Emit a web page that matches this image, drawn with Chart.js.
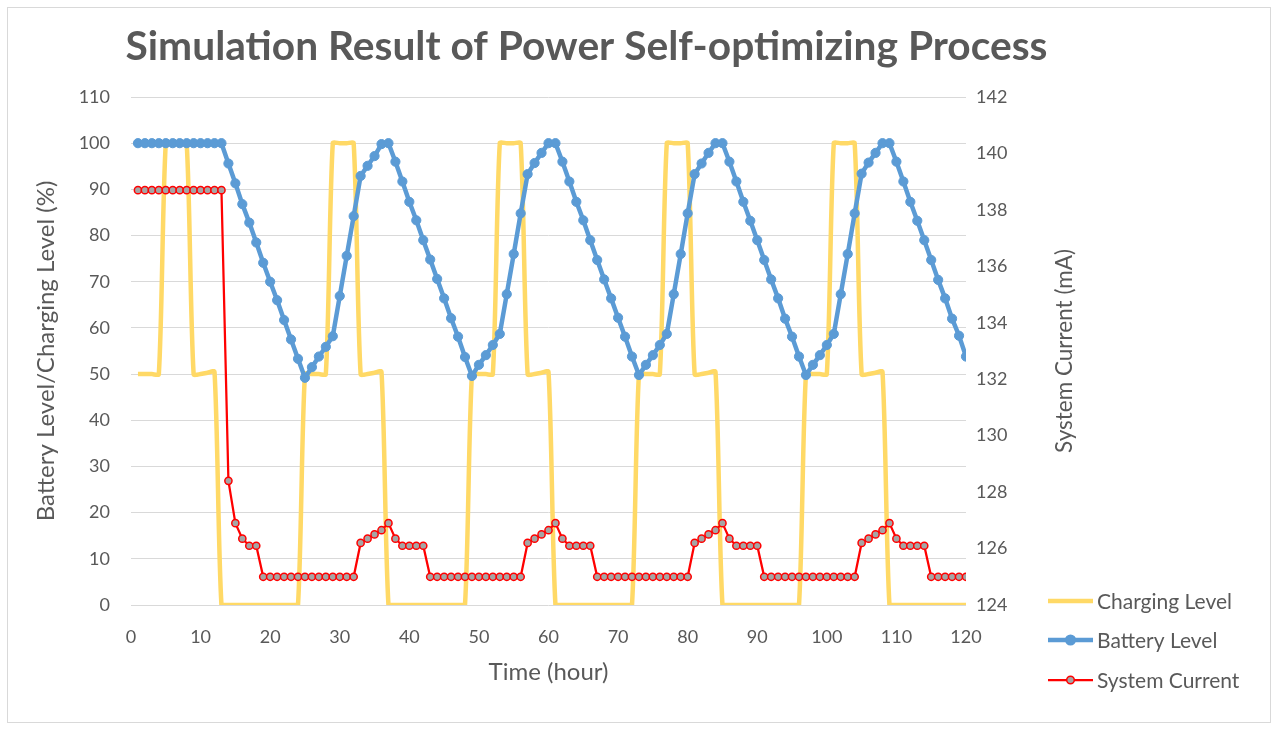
<!DOCTYPE html>
<html>
<head>
<meta charset="utf-8">
<title>Simulation Result of Power Self-optimizing Process</title>
<script src="https://cdn.jsdelivr.net/npm/chart.js@4.4.1/dist/chart.umd.min.js"></script>
<style>
  html, body { margin: 0; padding: 0; background: #fff; }
  canvas { display: block; }
</style>
</head>
<body>
<canvas id="powerChart" width="1279" height="731"></canvas>
<script>
// --- data ---
const hours = [
  1, 2, 3, 4, 5, 6, 7, 8, 9, 10, 11, 12, 13, 14, 15, 16, 17, 18, 19, 20,
  21, 22, 23, 24, 25, 26, 27, 28, 29, 30, 31, 32, 33, 34, 35, 36, 37, 38, 39, 40,
  41, 42, 43, 44, 45, 46, 47, 48, 49, 50, 51, 52, 53, 54, 55, 56, 57, 58, 59, 60,
  61, 62, 63, 64, 65, 66, 67, 68, 69, 70, 71, 72, 73, 74, 75, 76, 77, 78, 79, 80,
  81, 82, 83, 84, 85, 86, 87, 88, 89, 90, 91, 92, 93, 94, 95, 96, 97, 98, 99, 100,
  101, 102, 103, 104, 105, 106, 107, 108, 109, 110, 111, 112, 113, 114, 115, 116, 117, 118, 119, 120
];

// Charging Level (%)
const chargingLevel = [
  50, 50, 50, 50, 100, 100, 100, 100, 50, 50, 50.3, 50.5, 0, 0, 0, 0, 0, 0, 0, 0, 0, 0, 0, 0,
  50, 50, 50, 50, 100, 100, 100, 100, 50, 50, 50.3, 50.5, 0, 0, 0, 0, 0, 0, 0, 0, 0, 0, 0, 0,
  50, 50, 50, 50, 100, 100, 100, 100, 50, 50, 50.3, 50.5, 0, 0, 0, 0, 0, 0, 0, 0, 0, 0, 0, 0,
  50, 50, 50, 50, 100, 100, 100, 100, 50, 50, 50.3, 50.5, 0, 0, 0, 0, 0, 0, 0, 0, 0, 0, 0, 0,
  50, 50, 50, 50, 100, 100, 100, 100, 50, 50, 50.3, 50.5, 0, 0, 0, 0, 0, 0, 0, 0, 0, 0, 0, 0
];

// Battery Level (%)
const batteryLevel = [
  100, 100, 100, 100, 100, 100, 100, 100, 100, 100, 100, 100, 100,
  95.6, 91.3, 86.8, 82.8, 78.5, 74.1, 70.0, 66.0, 61.7, 57.5, 53.3, 49.2,
  51.5, 53.8, 55.9, 58.2, 66.9, 75.6, 84.2, 92.9, 95.1, 97.2, 99.8, 100,
  96.0, 91.7, 87.3, 83.3, 79.0, 74.8, 70.6, 66.4, 62.1, 58.1, 53.7, 49.6,
  52.0, 54.1, 56.3, 58.7, 67.3, 76.0, 84.8, 93.3, 95.7, 97.9, 100, 100,
  96.0, 91.7, 87.3, 83.3, 79.0, 74.7, 70.5, 66.4, 62.2, 58.1, 53.8, 49.8,
  52.0, 54.1, 56.3, 58.7, 67.3, 76.0, 84.8, 93.3, 95.6, 97.9, 100, 100,
  96.0, 91.7, 87.3, 83.2, 79.0, 74.7, 70.5, 66.4, 62.0, 58.1, 53.8, 49.8,
  52.0, 54.1, 56.3, 58.7, 67.3, 76.0, 84.8, 93.4, 95.8, 97.9, 100, 100,
  96.0, 91.7, 87.3, 83.2, 79.0, 74.7, 70.4, 66.4, 62.0, 58.3, 53.8
];

// System Current (mA)
const systemCurrent = [
  138.7, 138.7, 138.7, 138.7, 138.7, 138.7, 138.7, 138.7, 138.7, 138.7, 138.7, 138.7, 138.7,
  128.4, 126.9, 126.35, 126.1, 126.1,
  125, 125, 125, 125, 125, 125, 125, 125, 125, 125, 125, 125, 125, 125,
  126.2, 126.35, 126.5, 126.65, 126.9, 126.35, 126.1, 126.1, 126.1, 126.1,
  125, 125, 125, 125, 125, 125, 125, 125, 125, 125, 125, 125, 125, 125,
  126.2, 126.35, 126.5, 126.65, 126.9, 126.35, 126.1, 126.1, 126.1, 126.1,
  125, 125, 125, 125, 125, 125, 125, 125, 125, 125, 125, 125, 125, 125,
  126.2, 126.35, 126.5, 126.65, 126.9, 126.35, 126.1, 126.1, 126.1, 126.1,
  125, 125, 125, 125, 125, 125, 125, 125, 125, 125, 125, 125, 125, 125,
  126.2, 126.35, 126.5, 126.65, 126.9, 126.35, 126.1, 126.1, 126.1, 126.1,
  125, 125, 125, 125, 125, 125
];

const xTicks = [0, 10, 20, 30, 40, 50, 60, 70, 80, 90, 100, 110, 120];
const leftTicks = [0, 10, 20, 30, 40, 50, 60, 70, 80, 90, 100, 110];
const rightTicks = [124, 126, 128, 130, 132, 134, 136, 138, 140, 142];

const TEXT = '#595959';
const GRID = '#D9D9D9';
const YELLOW = '#FFD966';
const BLUE = '#5B9BD5';
const RED = '#FF0000';
const GRAY = '#A5A5A5';
const FONT = 'Lato, "Open Sans", sans-serif';

Chart.defaults.font.family = FONT;
Chart.defaults.color = TEXT;

const toPoints = vals => hours.map((h, i) => ({ x: h, y: vals[i] }));

// title, right axis title, legend and frame drawn by hand (Excel layout)
const decor = {
  id: 'decor',
  beforeDraw(chart) {
    const ctx = chart.ctx;
    ctx.save();
    ctx.strokeStyle = GRID;
    ctx.lineWidth = 1;
    ctx.strokeRect(7.5, 7.5, 1263, 715);
    ctx.restore();
  },
  afterDraw(chart) {
    const ctx = chart.ctx;
    ctx.save();
    ctx.fillStyle = TEXT;

    // chart title, fitted to the reference width
    const title = 'Simulation Result of Power Self-optimizing Process';
    ctx.font = 'bold 40px ' + FONT;
    const size = 40 * 923 / ctx.measureText(title).width;
    ctx.font = 'bold ' + size.toFixed(1) + 'px ' + FONT;
    ctx.textAlign = 'center';
    ctx.textBaseline = 'alphabetic';
    ctx.fillText(title, 586.5, 60);

    // secondary axis title
    ctx.font = '22.5px ' + FONT;
    ctx.translate(1065, 351);
    ctx.rotate(-Math.PI / 2);
    ctx.textBaseline = 'middle';
    ctx.fillText('System Current (mA)', 0, 0);
    ctx.setTransform(chart.currentDevicePixelRatio, 0, 0, chart.currentDevicePixelRatio, 0, 0);

    // legend
    const rows = [
      { label: 'Charging Level', y: 601, color: YELLOW, width: 4.5, marker: null },
      { label: 'Battery Level', y: 640, color: BLUE, width: 4.5, marker: { r: 4.8, fill: BLUE, stroke: BLUE } },
      { label: 'System Current', y: 680, color: RED, width: 2.25, marker: { r: 3.8, fill: GRAY, stroke: RED } }
    ];
    ctx.font = '21px ' + FONT;
    ctx.textAlign = 'left';
    ctx.textBaseline = 'middle';
    rows.forEach(r => {
      ctx.strokeStyle = r.color;
      ctx.lineWidth = r.width;
      ctx.beginPath();
      ctx.moveTo(1048, r.y);
      ctx.lineTo(1093, r.y);
      ctx.stroke();
      if (r.marker) {
        ctx.beginPath();
        ctx.arc(1070.5, r.y, r.marker.r, 0, Math.PI * 2);
        ctx.fillStyle = r.marker.fill;
        ctx.fill();
        ctx.lineWidth = 1.5;
        ctx.strokeStyle = r.marker.stroke;
        ctx.stroke();
      }
      ctx.fillStyle = TEXT;
      ctx.fillText(r.label, 1097, r.y + 1);
    });
    ctx.restore();
  }
};

new Chart(document.getElementById('powerChart'), {
  type: 'line',
  data: {
    datasets: [
      {
        label: 'Charging Level',
        data: toPoints(chargingLevel),
        yAxisID: 'y',
        borderColor: YELLOW,
        borderWidth: 4.5,
        pointRadius: 0,
        tension: 0.25,
        order: 3
      },
      {
        label: 'Battery Level',
        data: toPoints(batteryLevel),
        yAxisID: 'y',
        borderColor: BLUE,
        backgroundColor: BLUE,
        borderWidth: 4.5,
        pointRadius: 4.6,
        pointBorderWidth: 1,
        pointBackgroundColor: BLUE,
        pointBorderColor: BLUE,
        tension: 0,
        order: 2
      },
      {
        label: 'System Current',
        data: toPoints(systemCurrent),
        yAxisID: 'y1',
        borderColor: RED,
        backgroundColor: GRAY,
        borderWidth: 2.25,
        pointRadius: 3.6,
        pointBorderWidth: 1.5,
        pointBackgroundColor: GRAY,
        pointBorderColor: RED,
        tension: 0,
        order: 1
      }
    ]
  },
  options: {
    responsive: false,
    animation: false,
    layout: { padding: { top: 97, right: 253, bottom: 0, left: 0 } },
    plugins: {
      legend: { display: false },
      title: { display: false },
      tooltip: { enabled: false }
    },
    scales: {
      x: {
        type: 'linear',
        min: 0,
        max: 120,
        afterBuildTicks: s => { s.ticks = xTicks.map(v => ({ value: v })); },
        afterFit: s => { s.height = 126; },
        grid: { display: false, drawTicks: false },
        border: { display: false },
        ticks: { padding: 21, font: { size: 18 }, color: TEXT },
        title: { display: true, text: 'Time (hour)', font: { size: 24 }, color: TEXT, padding: { top: 0, bottom: 44 } }
      },
      y: {
        position: 'left',
        min: 0,
        max: 110,
        afterBuildTicks: s => { s.ticks = leftTicks.map(v => ({ value: v })); },
        afterFit: s => { s.width = 131; },
        grid: { color: GRID, lineWidth: 1, drawTicks: false },
        border: { display: false },
        ticks: { padding: 21, font: { size: 18 }, color: TEXT },
        title: { display: true, text: 'Battery Level/Charging Level (%)', font: { size: 24 }, color: TEXT, padding: { top: 32, bottom: 0 } }
      },
      y1: {
        position: 'right',
        min: 124,
        max: 142,
        afterBuildTicks: s => { s.ticks = rightTicks.map(v => ({ value: v })); },
        afterFit: s => { s.width = 60; },
        grid: { display: false, drawTicks: false },
        border: { display: false },
        ticks: { padding: 10, font: { size: 18 }, color: TEXT }
      }
    }
  },
  plugins: [decor]
});
</script>
</body>
</html>
